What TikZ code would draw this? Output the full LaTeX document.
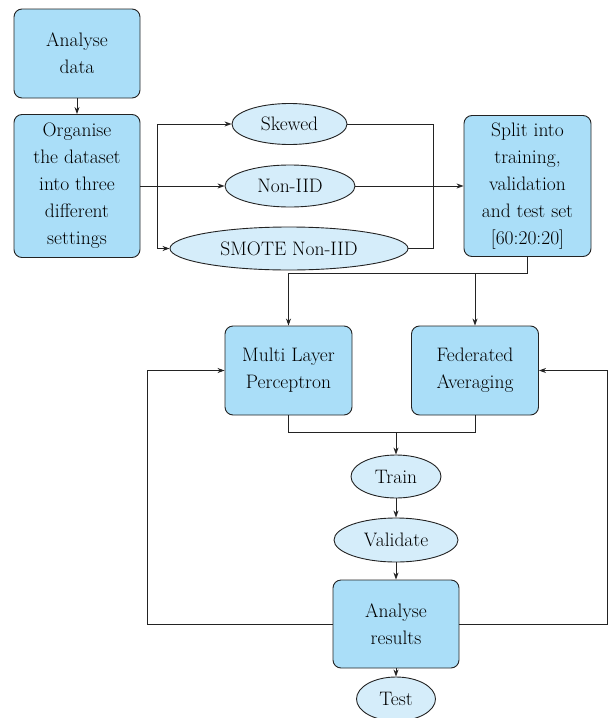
\documentclass[tikz,border=0pt]{standalone}
\usetikzlibrary{arrows.meta,shapes.geometric}
\definecolor{boxfill}{RGB}{170,222,248}
\definecolor{ovalfill}{RGB}{213,237,250}
\definecolor{edge}{RGB}{35,35,35}
\begin{document}
\begin{tikzpicture}[x=1pt,y=-1pt,
  every node/.style={font=\fontsize{19.5}{27}\selectfont, text=black},
  procbox/.style={draw=edge, fill=boxfill, rounded corners=8pt, line width=0.9pt, align=center, inner sep=0pt},
  oval/.style={draw=edge, fill=ovalfill, ellipse, line width=0.9pt, inner sep=0pt},
  flow/.style={draw=edge, line width=0.8pt, -{Stealth[length=7pt,width=5pt]}},
  plain/.style={draw=edge, line width=0.8pt}]
\useasboundingbox (0,0) rectangle (608,718);

% data preparation
\node[procbox, minimum width=126pt, minimum height=89pt] (analyse) at (77,53.5) {Analyse\\data};
\node[procbox, minimum width=126pt, minimum height=143pt] (organise) at (77,186) {Organise\\the dataset\\into three\\different\\settings};
\node[oval, minimum width=115pt, minimum height=41pt] (skewed) at (289.5,124) {Skewed};
\node[oval, minimum width=130pt, minimum height=42pt] (noniid) at (290,186) {Non-IID};
\node[oval, minimum width=238pt, minimum height=43pt] (smote) at (289,248.5) {SMOTE Non-IID};
\node[procbox, minimum width=127pt, minimum height=141pt] (split) at (527.5,186) {Split into\\training,\\validation\\and test set\\{[60:20:20]}};

% models
\node[procbox, minimum width=127pt, minimum height=89pt] (mlp) at (288.5,370.5) {Multi Layer\\Perceptron};
\node[procbox, minimum width=127pt, minimum height=89pt] (fedavg) at (475,370.5) {Federated\\Averaging};

% training loop
\node[oval, minimum width=90pt, minimum height=43pt] (train) at (396,476.5) {Train};
\node[oval, minimum width=124pt, minimum height=44pt] (validate) at (396,540) {Validate};
\node[procbox, minimum width=126pt, minimum height=88pt] (results) at (396,624) {Analyse\\results};
\node[oval, minimum width=79pt, minimum height=44pt] (test) at (396,699) {Test};

% routing points
\coordinate (fork) at (157,186);
\coordinate (join) at (433,186);
\coordinate (splitdown) at (527.5,273);
\coordinate (merge) at (396,432);
\coordinate (leftloop) at (147,624);
\coordinate (rightloop) at (607,624);

\draw[flow] (analyse) -- (organise);
\draw[plain] (organise.east) -- (fork);
\draw[flow] (fork) -- (noniid);
\draw[flow] (fork) |- (skewed);
\draw[flow] (fork) |- (smote);
\draw[plain] (skewed) -| (join);
\draw[plain] (smote) -| (join);
\draw[flow] (noniid) -- (split);

\draw[plain] (split.south) -- (splitdown) -- (splitdown -| mlp);
\draw[flow] (splitdown -| mlp) -- (mlp);
\draw[flow] (splitdown -| fedavg) -- (fedavg);

\draw[plain] (mlp.south) -- (mlp.south |- merge) -- (fedavg.south |- merge) -- (fedavg.south);
\draw[flow] (merge) -- (train);
\draw[flow] (train) -- (validate);
\draw[flow] (validate) -- (results);
\draw[flow] (results) -- (test);

\draw[flow] (results.west) -- (leftloop) |- (mlp.west);
\draw[flow] (results.east) -- (rightloop) |- (fedavg.east);
\end{tikzpicture}
\end{document}
